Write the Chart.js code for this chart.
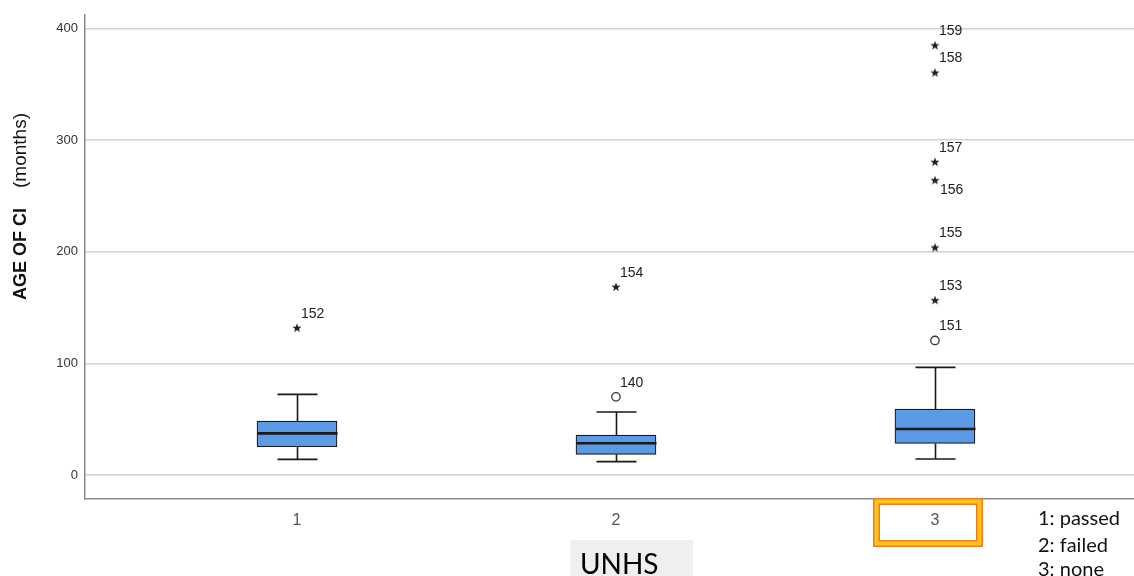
<!DOCTYPE html>
<html>
<head>
<meta charset="utf-8">
<script src="https://cdn.jsdelivr.net/npm/chart.js@4/dist/chart.umd.min.js"></script>
<style>
  html, body { margin: 0; padding: 0; background: #fff; }
  #wrap { width: 1134px; height: 576px; position: relative; }
</style>
</head>
<body>
<div id="wrap"><canvas id="boxplot" width="1134" height="576"></canvas></div>
<script>
// groups on the x axis
const groups = [1, 2, 3];
const groupLabels = ['1', '2', '3'];

// box statistics (months)
const whiskerLow = [14, 12, 14.3];
const q1 = [25.3, 18.5, 28.3];
const median = [37.3, 28.4, 41.2];
const q3 = [48.3, 35.8, 59];
const whiskerHigh = [72.2, 56.4, 96.4];

// outliers (circles) and extremes (stars) with case numbers
const outGroup = [2, 3];
const outValue = [70, 120.5];
const outCase = ['140', '151'];

const extGroup = [1, 2, 3, 3, 3, 3, 3, 3];
const extValue = [131.8, 168.5, 156.6, 203.8, 264, 280.4, 360.4, 384.8];
const extCase = ['152', '154', '153', '155', '156', '157', '158', '159'];
const extLabelBelow = ['156'];

const yTicks = [0, 100, 200, 300, 400];

// small filled star used as point style
const starImg = document.createElement('canvas');
starImg.width = 10; starImg.height = 10;
(function() {
    const c = starImg.getContext('2d');
    c.fillStyle = '#222';
    c.beginPath();
    for (let i = 0; i < 10; i++) {
        const r = i % 2 === 0 ? 4.8 : 2;
        const a = -Math.PI / 2 + i * Math.PI / 5;
        const px = 5 + r * Math.cos(a), py = 5.3 + r * Math.sin(a);
        if (i === 0) c.moveTo(px, py); else c.lineTo(px, py);
    }
    c.closePath();
    c.fill();
})();

const boxParts = {
    id: 'boxParts',
    afterDatasetsDraw(chart) {
        const ctx = chart.ctx;
        const x = chart.scales.x, y = chart.scales.y;
        const half = 40;
        ctx.save();
        ctx.strokeStyle = '#1a1a1a';
        groups.forEach((g, i) => {
            const cx = Math.round(x.getPixelForValue(g)) + 0.5;
            ctx.lineWidth = 1.6;
            ctx.beginPath();
            ctx.moveTo(cx, y.getPixelForValue(q3[i]));
            ctx.lineTo(cx, y.getPixelForValue(whiskerHigh[i]));
            ctx.moveTo(cx, y.getPixelForValue(q1[i]));
            ctx.lineTo(cx, y.getPixelForValue(whiskerLow[i]));
            ctx.moveTo(cx - half / 2, y.getPixelForValue(whiskerHigh[i]));
            ctx.lineTo(cx + half / 2, y.getPixelForValue(whiskerHigh[i]));
            ctx.moveTo(cx - half / 2, y.getPixelForValue(whiskerLow[i]));
            ctx.lineTo(cx + half / 2, y.getPixelForValue(whiskerLow[i]));
            ctx.stroke();
            ctx.lineWidth = 2.6;
            ctx.beginPath();
            ctx.moveTo(cx - half, y.getPixelForValue(median[i]));
            ctx.lineTo(cx + half, y.getPixelForValue(median[i]));
            ctx.stroke();
        });
        // case numbers next to outliers
        ctx.fillStyle = '#222';
        ctx.font = '14px "Liberation Sans", Arial, sans-serif';
        ctx.textBaseline = 'middle';
        ctx.textAlign = 'left';
        outGroup.forEach((g, i) => {
            ctx.fillText(outCase[i], x.getPixelForValue(g) + 4, y.getPixelForValue(outValue[i]) - 14);
        });
        extGroup.forEach((g, i) => {
            const below = extLabelBelow.includes(extCase[i]);
            ctx.fillText(extCase[i], x.getPixelForValue(g) + (below ? 5 : 4),
                y.getPixelForValue(extValue[i]) + (below ? 10 : -14));
        });
        ctx.restore();
    }
};

const annotations = {
    id: 'annotations',
    afterDraw(chart) {
        const ctx = chart.ctx;
        ctx.save();
        // y axis title, mixed weights
        ctx.translate(21, 300);
        ctx.rotate(-Math.PI / 2);
        ctx.fillStyle = '#111';
        ctx.textBaseline = 'middle';
        ctx.textAlign = 'left';
        ctx.font = 'bold 18px "Liberation Sans", Arial, sans-serif';
        ctx.fillText('AGE OF CI', 0, 0);
        ctx.font = '19px "Liberation Sans", Arial, sans-serif';
        ctx.fillText('(months)', 112, 0);
        ctx.restore();

        ctx.save();
        // x axis title on grey patch
        ctx.fillStyle = '#efefef';
        ctx.fillRect(570, 540, 123, 36);
        ctx.fillStyle = '#000';
        ctx.font = '28px Lato, "Open Sans", sans-serif';
        ctx.textBaseline = 'alphabetic';
        ctx.fillText('UNHS', 580, 574);

        // group key
        ctx.font = '20px Lato, "Open Sans", sans-serif';
        ctx.fillStyle = '#111';
        ctx.fillText('1: passed', 1038, 525);
        ctx.fillText('2: failed', 1038, 552);
        ctx.fillText('3: none', 1038, 576);

        // highlight frame round group 3
        ctx.strokeStyle = '#ee7d22';
        ctx.lineWidth = 7;
        ctx.strokeRect(876.5, 501.5, 103, 42);
        ctx.strokeStyle = '#ffc21a';
        ctx.lineWidth = 4;
        ctx.strokeRect(876.5, 501.5, 103, 42);
        ctx.restore();
    }
};

new Chart(document.getElementById('boxplot'), {
    type: 'bar',
    data: {
        datasets: [
            {
                type: 'bar',
                data: groups.map((g, i) => ({ x: g, y: [q1[i], q3[i]] })),
                backgroundColor: '#5b9be6',
                borderColor: '#1a1a1a',
                borderWidth: 1.2,
                borderSkipped: false,
                barThickness: 80
            },
            {
                type: 'scatter',
                data: outGroup.map((g, i) => ({ x: g, y: outValue[i] })),
                pointStyle: 'circle',
                pointRadius: 4.2,
                backgroundColor: '#fff',
                borderColor: '#333',
                borderWidth: 1.3
            },
            {
                type: 'scatter',
                data: extGroup.map((g, i) => ({ x: g, y: extValue[i] })),
                pointStyle: starImg
            }
        ]
    },
    options: {
        responsive: false,
        animation: false,
        layout: { autoPadding: false, padding: { top: 15, right: 0, left: 0, bottom: 0 } },
        plugins: {
            legend: { display: false },
            tooltip: { enabled: false }
        },
        scales: {
            x: {
                type: 'linear',
                offset: false,
                min: 0.3354,
                max: 3.624,
                afterBuildTicks: s => { s.ticks = groups.map(v => ({ value: v })); },
                afterFit: s => { s.height = 77; s.paddingRight = 0; },
                grid: { display: false, drawTicks: false, offset: false },
                border: { display: true, color: '#8a8a8a', width: 1.5 },
                ticks: {
                    padding: 12,
                    color: '#555',
                    font: { size: 16, family: '"Liberation Sans", Arial, sans-serif' },
                    callback: v => groupLabels[groups.indexOf(v)]
                }
            },
            y: {
                min: -21.5,
                max: 412,
                afterBuildTicks: s => { s.ticks = yTicks.map(v => ({ value: v })); },
                afterFit: s => { s.width = 85; },
                grid: { color: '#d2d2d2', lineWidth: 1.5, drawTicks: false },
                border: { display: true, color: '#8a8a8a', width: 1.5 },
                ticks: {
                    padding: 7,
                    color: '#333',
                    font: { size: 13, family: '"Liberation Sans", Arial, sans-serif' }
                }
            }
        }
    },
    plugins: [boxParts, annotations]
});
</script>
</body>
</html>
